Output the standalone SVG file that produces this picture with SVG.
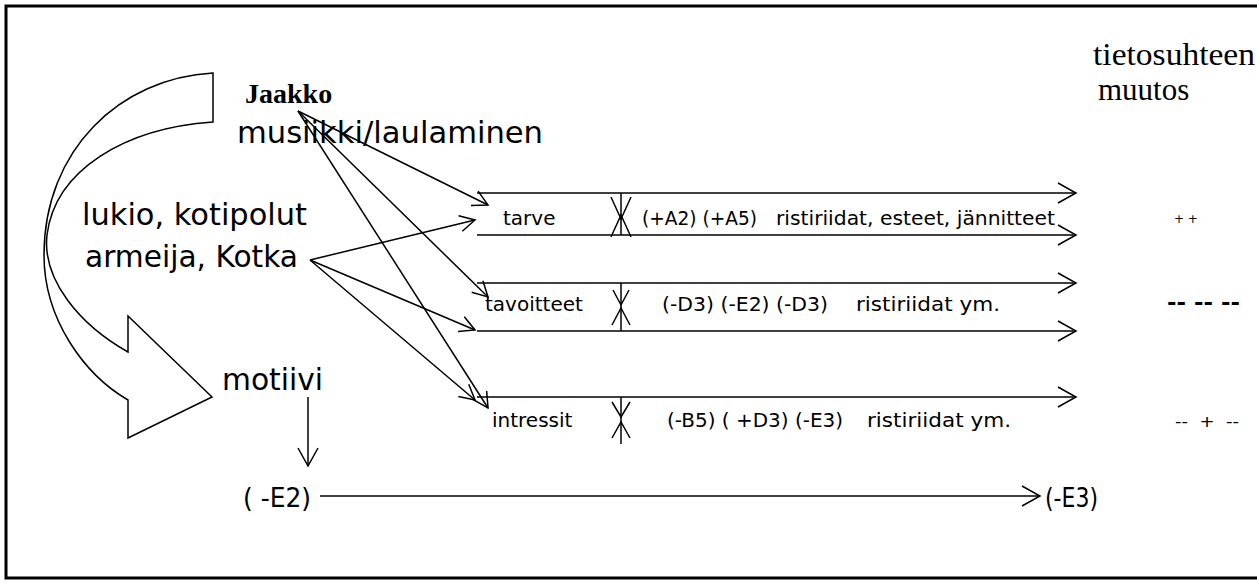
<svg xmlns="http://www.w3.org/2000/svg" width="1257" height="583" viewBox="0 0 1257 583">
<style>
.s{font-family:"DejaVu Sans",Verdana,sans-serif;fill:#000}
.t{font-family:"Liberation Serif","Times New Roman",serif;fill:#000}
.ln{stroke:#000;stroke-width:1.5;fill:none}
</style>
<defs>
<marker id="ah" markerUnits="userSpaceOnUse" viewBox="-17 -10 19 20" markerWidth="19" markerHeight="20" refX="0" refY="0" orient="auto">
<path d="M-15,-8 L0,0 L-15,8" fill="none" stroke="#000" stroke-width="1.5"/>
</marker>
<marker id="ahr" markerUnits="userSpaceOnUse" viewBox="-20 -12 22 24" markerWidth="22" markerHeight="24" refX="0" refY="0" orient="auto">
<path d="M-18,-10 L0,0 L-18,10" fill="none" stroke="#000" stroke-width="1.5"/>
</marker>
</defs>
<rect width="1257" height="583" fill="#fff"/>
<path d="M1257,6 H6 V578 H1257" fill="none" stroke="#000" stroke-width="3"/>

<g id="curved-arrow">
<path class="ln" d="M213,73 C120,78 44,150 44,255 C44,320 85,375 128,400 L128,438 L212,397 L128,316 L128,352 C80,325 42,280 47,235 C55,170 125,128 213,122 Z"/>
</g>

<g id="jaakko">
<text class="t" x="245" y="103" font-size="28" font-weight="bold">Jaakko</text>
<text class="s" x="237" y="143" font-size="30" textLength="306" lengthAdjust="spacingAndGlyphs">musiikki/laulaminen</text>
</g>
<g id="lukio">
<text class="s" x="82" y="225" font-size="30" textLength="225" lengthAdjust="spacingAndGlyphs">lukio, kotipolut</text>
<text class="s" x="85" y="267" font-size="30" textLength="213" lengthAdjust="spacingAndGlyphs">armeija, Kotka</text>
</g>
<g id="motiivi">
<text class="s" x="222" y="390" font-size="30" textLength="101" lengthAdjust="spacingAndGlyphs">motiivi</text>
</g>
<g id="header">
<text class="t" x="1093" y="65" font-size="31" textLength="162" lengthAdjust="spacingAndGlyphs">tietosuhteen</text>
<text class="t" x="1098" y="100" font-size="31">muutos</text>
</g>

<g id="tarve">
<line class="ln" x1="477" y1="193" x2="1076" y2="193" marker-end="url(#ahr)"/>
<line class="ln" x1="477" y1="235" x2="1076" y2="235" marker-end="url(#ahr)"/>
<line class="ln" x1="621" y1="193" x2="621" y2="235"/>
<path class="ln" d="M611,197 L621,219 L631,197 M611,237 L621,215 L631,237"/>
<text class="s" x="503" y="225" font-size="20">tarve</text>
<text class="s" x="642" y="225" font-size="20" xml:space="preserve" textLength="115" lengthAdjust="spacingAndGlyphs">(+A2) (+A5)</text>
<text class="s" x="776" y="225" font-size="20" textLength="279" lengthAdjust="spacingAndGlyphs">ristiriidat, esteet, jännitteet</text>
<text class="s" x="1174" y="223" font-size="12">+ +</text>
</g>

<g id="tavoitteet">
<line class="ln" x1="477" y1="283" x2="1076" y2="283" marker-end="url(#ahr)"/>
<line class="ln" x1="477" y1="331" x2="1076" y2="331" marker-end="url(#ahr)"/>
<line class="ln" x1="621" y1="283" x2="621" y2="331"/>
<path class="ln" d="M613,290 L621,305 L629,290 M612,325 L621,308 L630,325"/>
<text class="s" x="485" y="311" font-size="20">tavoitteet</text>
<text class="s" x="662" y="311" font-size="20" textLength="166" lengthAdjust="spacingAndGlyphs">(-D3) (-E2) (-D3)</text>
<text class="s" x="856" y="311" font-size="20" textLength="144" lengthAdjust="spacingAndGlyphs">ristiriidat ym.</text>
<text class="s" x="1167" y="310" font-size="22" font-weight="bold" xml:space="preserve" textLength="73" lengthAdjust="spacingAndGlyphs">-- -- --</text>
</g>

<g id="intressit">
<line class="ln" x1="477" y1="397" x2="1076" y2="397" marker-end="url(#ahr)"/>
<line class="ln" x1="621" y1="397" x2="621" y2="444"/>
<path class="ln" d="M612,402 L621,417 L630,402 M612,438 L621,422 L630,438"/>
<text class="s" x="492" y="427" font-size="20">intressit</text>
<text class="s" x="667" y="427" font-size="20" textLength="176" lengthAdjust="spacingAndGlyphs">(-B5) ( +D3) (-E3)</text>
<text class="s" x="867" y="427" font-size="20" textLength="144" lengthAdjust="spacingAndGlyphs">ristiriidat ym.</text>
<text class="s" x="1175" y="427" font-size="16" xml:space="preserve" textLength="64" lengthAdjust="spacingAndGlyphs">--  +  --</text>
</g>

<g id="e2">
<text class="s" x="243" y="507" font-size="27" textLength="68" lengthAdjust="spacingAndGlyphs">( -E2)</text>
</g>
<g id="e3">
<text class="s" x="1045" y="507" font-size="27" textLength="53" lengthAdjust="spacingAndGlyphs">(-E3)</text>
</g>

<g id="connectors">
<line class="ln" x1="298" y1="111" x2="488" y2="205" marker-end="url(#ah)"/>
<line class="ln" x1="298" y1="111" x2="488" y2="297" marker-end="url(#ah)"/>
<line class="ln" x1="298" y1="111" x2="488" y2="408" marker-end="url(#ah)"/>
<line class="ln" x1="310" y1="260" x2="475" y2="220" marker-end="url(#ah)"/>
<line class="ln" x1="310" y1="260" x2="475" y2="330" marker-end="url(#ah)"/>
<line class="ln" x1="310" y1="260" x2="475" y2="400" marker-end="url(#ah)"/>
<line class="ln" x1="308" y1="397" x2="308" y2="466" marker-end="url(#ahr)"/>
<line class="ln" x1="320" y1="496" x2="1040" y2="496" marker-end="url(#ahr)"/>
</g>
</svg>
